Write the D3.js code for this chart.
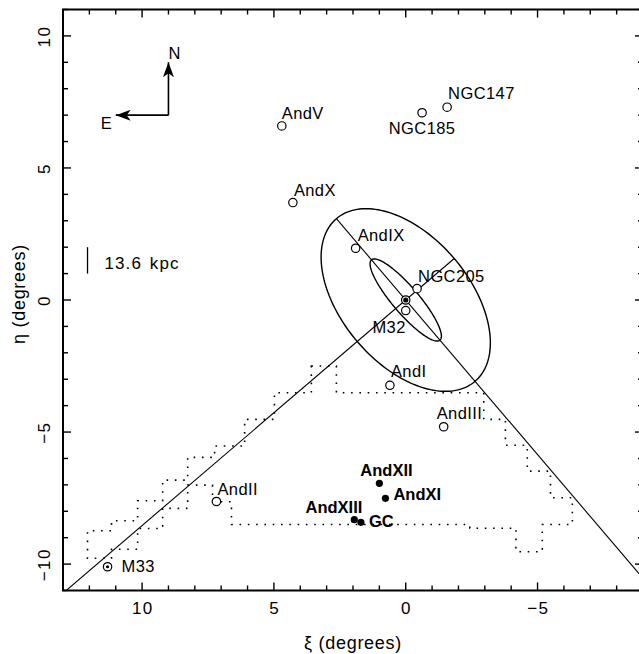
<!DOCTYPE html>
<html>
<head>
<meta charset="utf-8">
<script src="https://cdn.jsdelivr.net/npm/d3@7"></script>
<style>
  body { margin: 0; background: #fff; }
  text { font-family: "Liberation Sans", Arial, sans-serif; fill: #000; }
</style>
</head>
<body>
<svg id="chart" width="639" height="654"></svg>
<script>
// satellites of M31, tangent-plane coordinates in degrees
const names = ["M31", "M32", "NGC205", "AndIX", "AndI", "AndIII", "AndII", "M33",
  "AndV", "AndX", "NGC185", "NGC147", "AndXII", "AndXI", "AndXIII", "GC"];
const xi  = [0, 0.0, -0.43, 1.90, 0.60, -1.44, 7.18, 11.31, 4.70, 4.28, -0.62, -1.57, 1.00, 0.77, 1.95, 1.70];
const eta = [0, -0.40, 0.43, 1.96, -3.23, -4.80, -7.63, -10.10, 6.59, 3.69, 7.09, 7.30, -6.94, -7.51, -8.32, -8.42];
const kind = ["center", "open", "open", "open", "open", "open", "open", "center",
  "open", "open", "open", "open", "new", "new", "new", "new"];

// M31 disc and halo ellipses
const ellipsePA = 40.5;          // position angle, degrees
const ellipseA = [2.0, 4.05];    // semi-major, degrees
const ellipseB = [0.5, 2.42];    // semi-minor, degrees

// survey footprint outline (dotted)
const footXi  = [3.58, 2.63, 2.63, -2.96, -2.96, -3.78, -3.78, -4.61, -4.61, -5.49, -5.49, -6.32, -6.32,
  -5.18, -5.18, -4.18, -4.18, -2.43, -2.43, 6.61, 6.61, 7.33, 7.33, 8.27, 8.27, 9.22, 9.22, 10.17,
  10.17, 11.16, 11.16, 12.07, 12.07, 11.16, 11.16, 10.17, 10.17, 9.22, 9.22, 8.27, 8.27, 7.25, 7.25,
  6.11, 6.11, 4.98, 4.98, 3.58];
const footEta = [-2.50, -2.50, -3.51, -3.51, -4.52, -4.52, -5.50, -5.50, -6.48, -6.48, -7.49, -7.49, -8.50,
  -8.50, -9.53, -9.53, -8.64, -8.64, -8.50, -8.50, -7.64, -7.64, -7.01, -7.01, -7.89, -7.89, -8.65, -8.65,
  -9.44, -9.44, -9.78, -9.78, -8.74, -8.74, -8.36, -8.36, -7.60, -7.60, -6.82, -6.82, -5.96, -5.96, -5.53,
  -5.53, -4.52, -4.52, -3.51, -3.51];

const xTicks = [10, 5, 0, -5];
const yTicks = [10, 5, 0, -5, -10];

// compass and scale bar (degrees)
const compass = { xi: 9, eta: 7, len: 2 };
const scaleBar = { xi: 12.07, eta: [1, 2], label: "13.6 kpc" };

// label placement (pixel offsets from marker)
const labelLayout = {
  M32: [0, 22, "end"], NGC205: [1, -7, "start"], AndIX: [2, -7, "start"], AndI: [1, -8, "start"],
  AndIII: [-7, -8, "start"], AndII: [1, -7, "start"], M33: [14, 5.5, "start"], AndV: [0, -7, "start"],
  AndX: [1, -7, "start"], NGC185: [0, 21, "middle"], NGC147: [1, -8, "start"],
  AndXII: [-19, -7, "start"], AndXI: [8, 2, "start"], AndXIII: [8, -7, "end"], GC: [8, 5, "start"]
};

const svg = d3.select("#chart");
const x = d3.scaleLinear().domain([13, -9]).range([63, 643]);
const y = d3.scaleLinear().domain([11, -11]).range([9.5, 590.5]);
const fs = 16.5;

svg.append("clipPath").attr("id", "plotclip")
  .append("rect").attr("x", 63).attr("y", 9.5).attr("width", 580).attr("height", 581);

const plot = svg.append("g").attr("clip-path", "url(#plotclip)");

// footprint
const footPts = footXi.map((d, i) => [d, footEta[i]]);
plot.append("path")
  .attr("d", d3.line().x(d => x(d[0])).y(d => y(d[1])).curve(d3.curveLinearClosed)(footPts))
  .attr("fill", "none").attr("stroke", "#000").attr("stroke-width", 1.6)
  .attr("stroke-dasharray", "1.6,6.7");

// ellipses and axis lines
const pa = ellipsePA * Math.PI / 180;
const u = [Math.sin(pa), Math.cos(pa)];
const v = [Math.cos(pa), -Math.sin(pa)];
const ell = d3.line().x(d => x(d[0])).y(d => y(d[1])).curve(d3.curveLinearClosed);
ellipseA.forEach((a, k) => {
  const b = ellipseB[k];
  const pts = d3.range(0, 2 * Math.PI, Math.PI / 90).map(t =>
    [a * Math.cos(t) * u[0] + b * Math.sin(t) * v[0], a * Math.cos(t) * u[1] + b * Math.sin(t) * v[1]]);
  plot.append("path").attr("d", ell(pts)).attr("fill", "none")
    .attr("stroke", "#000").attr("stroke-width", 1.4);
});
const aOut = ellipseA[1], bOut = ellipseB[1];
const axisLines = [
  [[aOut * u[0], aOut * u[1]], [-25 * u[0], -25 * u[1]]],
  [[-bOut * v[0], -bOut * v[1]], [25 * v[0], 25 * v[1]]]
];
axisLines.forEach(l => {
  plot.append("line")
    .attr("x1", x(l[0][0])).attr("y1", y(l[0][1]))
    .attr("x2", x(l[1][0])).attr("y2", y(l[1][1]))
    .attr("stroke", "#000").attr("stroke-width", 1.1);
});

// markers
const objs = names.map((n, i) => ({ name: n, xi: xi[i], eta: eta[i], kind: kind[i] }));
objs.forEach(d => {
  const px = x(d.xi), py = y(d.eta);
  if (d.kind === "new") {
    svg.append("circle").attr("cx", px).attr("cy", py).attr("r", 3.6).attr("fill", "#000");
  } else {
    svg.append("circle").attr("cx", px).attr("cy", py).attr("r", 4.2)
      .attr("fill", "#fff").attr("stroke", "#000").attr("stroke-width", 1.2);
    if (d.kind === "center") {
      svg.append("circle").attr("cx", px).attr("cy", py)
        .attr("r", d.name === "M31" ? 2.6 : 1.6).attr("fill", "#000");
    }
  }
  const lay = labelLayout[d.name];
  if (lay) {
    svg.append("text").attr("x", px + lay[0]).attr("y", py + lay[1])
      .attr("text-anchor", lay[2])
      .attr("font-size", fs)
      .attr("letter-spacing", d.kind === "new" ? 0 : 0.4)
      .attr("font-weight", d.kind === "new" ? "bold" : "normal")
      .text(d.name);
  }
});

// compass
function arrowHead(tx, ty, dir) {
  // dir: unit vector pointing along the arrow (pixels)
  const L = 15, W = 5.5, N = 4;
  const bx = tx - dir[0] * L, by = ty - dir[1] * L;
  const nx = tx - dir[0] * (L - N), ny = ty - dir[1] * (L - N);
  const p = [-dir[1], dir[0]];
  return `M${tx},${ty}L${bx + p[0] * W},${by + p[1] * W}L${nx},${ny}L${bx - p[0] * W},${by - p[1] * W}Z`;
}
const cx0 = x(compass.xi), cy0 = y(compass.eta);
const nTip = [cx0, y(compass.eta + compass.len)];
const eTip = [x(compass.xi + compass.len), cy0];
svg.append("path").attr("d", `M${cx0},${cy0}L${nTip[0]},${nTip[1]}M${cx0},${cy0}L${eTip[0]},${eTip[1]}`)
  .attr("stroke", "#000").attr("stroke-width", 1.6).attr("fill", "none");
svg.append("path").attr("d", arrowHead(nTip[0], nTip[1], [0, -1])).attr("fill", "#000");
svg.append("path").attr("d", arrowHead(eTip[0], eTip[1], [-1, 0])).attr("fill", "#000");
svg.append("text").attr("x", nTip[0]).attr("y", nTip[1] - 3).attr("font-size", fs).text("N");
svg.append("text").attr("x", eTip[0] - 4).attr("y", eTip[1] + 14).attr("text-anchor", "end")
  .attr("font-size", fs).text("E");

// scale bar
svg.append("line").attr("x1", x(scaleBar.xi)).attr("x2", x(scaleBar.xi))
  .attr("y1", y(scaleBar.eta[0])).attr("y2", y(scaleBar.eta[1]))
  .attr("stroke", "#000").attr("stroke-width", 1.3);
svg.append("text").attr("x", x(scaleBar.xi) + 17).attr("y", y(scaleBar.eta[0]) - 5)
  .attr("font-size", 17).attr("letter-spacing", 1.1).attr("word-spacing", 2)
  .text(scaleBar.label);

// frame and ticks
const frame = svg.append("g");
frame.append("rect").attr("x", 63).attr("y", 9.5).attr("width", 580).attr("height", 581)
  .attr("fill", "none").attr("stroke", "#000").attr("stroke-width", 2);
const tickG = frame.append("g").attr("stroke", "#000").attr("stroke-width", 1.4);
d3.range(-9, 14).forEach(t => {
  const len = t % 5 === 0 ? 8 : 5;
  tickG.append("line").attr("x1", x(t)).attr("x2", x(t)).attr("y1", 9.5).attr("y2", 9.5 + len);
  tickG.append("line").attr("x1", x(t)).attr("x2", x(t)).attr("y1", 590.5).attr("y2", 590.5 - len);
});
d3.range(-11, 12).forEach(t => {
  const len = t % 5 === 0 ? 8 : 5;
  tickG.append("line").attr("y1", y(t)).attr("y2", y(t)).attr("x1", 63).attr("x2", 63 + len);
  tickG.append("line").attr("y1", y(t)).attr("y2", y(t)).attr("x1", 643).attr("x2", 643 - len);
});

const fmt = v => v < 0 ? "\u2212" + Math.abs(v) : String(v);
xTicks.forEach(t => {
  svg.append("text").attr("x", x(t) + 0.7).attr("y", 613.5).attr("text-anchor", "middle")
    .attr("font-size", 17).attr("letter-spacing", 1.4).text(fmt(t));
});
yTicks.forEach(t => {
  svg.append("text").attr("transform", `translate(49.5,${y(t) + 0.7}) rotate(-90)`)
    .attr("text-anchor", "middle").attr("font-size", 17).attr("letter-spacing", 1.4).text(fmt(t));
});

svg.append("text").attr("x", 353).attr("y", 649).attr("text-anchor", "middle")
  .attr("font-size", 18).attr("letter-spacing", 0.7).text("\u03BE (degrees)");
svg.append("text").attr("transform", "translate(25,294) rotate(-90)")
  .attr("text-anchor", "middle").attr("font-size", 18).attr("letter-spacing", 0.7).text("\u03B7 (degrees)");
</script>
</body>
</html>
